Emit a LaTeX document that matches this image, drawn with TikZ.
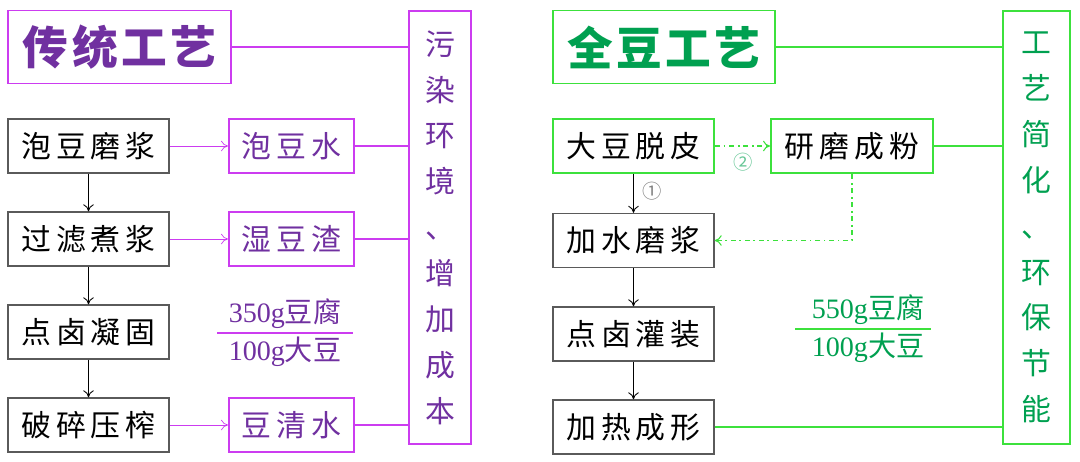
\documentclass[tikz,border=0pt]{standalone}
\usepackage{fontspec}
\setmainfont{Liberation Serif}
\newfontfamily\cjk{Noto Sans CJK SC}
\usetikzlibrary{arrows.meta}
\definecolor{mag}{RGB}{204,60,240}
\definecolor{purp}{RGB}{112,48,160}
\definecolor{grn}{RGB}{60,225,60}
\definecolor{dgrn}{RGB}{0,160,80}
\definecolor{gbox}{RGB}{90,90,90}
\newcommand{\tg}{\hspace{2pt}}
\begin{document}
\begin{tikzpicture}[x=0.02cm,y=-0.02cm,
  every node/.style={inner sep=0pt,font=\cjk},
  stepbox/.style={draw=gbox,line width=0.8pt,minimum width=3.22cm,minimum height=1.08cm,font=\cjk\fontsize{17}{20}\selectfont},
  magbox/.style={draw=mag,line width=1.1pt,minimum height=1.08cm,text=purp,font=\cjk\fontsize{17}{20}\selectfont},
  grnbox/.style={draw=grn,line width=1.1pt,minimum height=1.08cm,font=\cjk\fontsize{17}{20}\selectfont},
  titlebox/.style={line width=1.1pt,minimum width=4.45cm,minimum height=1.46cm,font=\cjk\bfseries\fontsize{26}{30}\selectfont},
  sidebox/.style={line width=1.1pt,minimum height=8.66cm,align=center,font=\cjk\fontsize{17}{26.1}\selectfont},
  magline/.style={draw=mag,line width=1pt},
  magarrow/.style={draw=mag,line width=0.4pt,-{To[length=4pt,width=6pt]}},
  blkarrow/.style={draw=black,line width=0.5pt,-{To[length=4pt,width=6pt]}},
  grnline/.style={draw=grn,line width=1pt},
  grnarrow/.style={draw=grn,line width=0.6pt,dash pattern=on 3pt off 2pt on 1pt off 2pt,-{To[length=4pt,width=6pt]}},
  fracfont/.style={font=\fontsize{16}{18}\selectfont}
]
\useasboundingbox (0,0) rectangle (1080,461);
% ---------- left ----------
\node[titlebox,draw=mag,text=purp] (t1) at (119.5,47) {传\tg 统\tg 工\tg 艺};
\node[sidebox,draw=mag,text=purp,minimum width=1.24cm] (r1) at (440,227.5) {污\\染\\环\\境\\、\\增\\加\\成\\本};
\node[stepbox] (a1) at (88.5,146) {泡\,豆\,磨\,浆};
\node[stepbox] (a2) at (88.5,239) {过\,滤\,煮\,浆};
\node[stepbox] (a3) at (88.5,332) {点\,卤\,凝\,固};
\node[stepbox] (a4) at (88.5,425) {破\,碎\,压\,榨};
\node[magbox,minimum width=2.5cm] (b1) at (291.5,146) {泡\,豆\,水};
\node[magbox,minimum width=2.5cm] (b2) at (291.5,239) {湿\,豆\,渣};
\node[magbox,minimum width=2.5cm] (b3) at (291.5,425) {豆\,清\,水};
\node[fracfont,text=purp] (f1) at (285,314) {350g{\cjk 豆腐}};
\node[fracfont,text=purp] (f2) at (285,352) {100g{\cjk 大豆}};
\coordinate (fl1) at (217,333);
\coordinate (fr1) at (353,333);
\draw[magline,line width=0.6pt] (fl1) -- (fr1);
\draw[magline] (t1.east) -- (t1.east -| r1.west);
\draw[magline] (b1.east) -- (b1.east -| r1.west);
\draw[magline] (b2.east) -- (b2.east -| r1.west);
\draw[magline] (b3.east) -- (b3.east -| r1.west);
\draw[magarrow] (a1) -- (b1);
\draw[magarrow] (a2) -- (b2);
\draw[magarrow] (a4) -- (b3);
\draw[blkarrow] (a1) -- (a2);
\draw[blkarrow] (a2) -- (a3);
\draw[blkarrow] (a3) -- (a4);
% ---------- right ----------
\node[titlebox,draw=grn,text=dgrn] (t2) at (664,47) {全\tg 豆\tg 工\tg 艺};
\node[sidebox,draw=grn,text=dgrn,minimum width=1.34cm] (r2) at (1036.5,227.5) {工\\艺\\简\\化\\、\\环\\保\\节\\能};
\node[grnbox,minimum width=3.22cm] (c1) at (633.5,146) {大\,豆\,脱\,皮};
\node[grnbox,minimum width=3.24cm] (d1) at (852,146) {研\,磨\,成\,粉};
\node[stepbox] (c2) at (633.5,240.5) {加\,水\,磨\,浆};
\node[stepbox] (c3) at (633.5,334) {点\,卤\,灌\,装};
\node[stepbox] (c4) at (633.5,427) {加\,热\,成\,形};
\node[fracfont,text=dgrn] (g1) at (868,310) {550g{\cjk 豆腐}};
\node[fracfont,text=dgrn] (g2) at (868,348) {100g{\cjk 大豆}};
\coordinate (gl1) at (795,329);
\coordinate (gr1) at (931,329);
\draw[grnline,line width=0.6pt] (gl1) -- (gr1);
\draw[grnline] (t2.east) -- (t2.east -| r2.west);
\draw[grnline] (d1.east) -- (d1.east -| r2.west);
\draw[grnline] (c4.east) -- (c4.east -| r2.west);
\draw[grnarrow] (c1) -- (d1);
\draw[grnarrow] (d1.south) |- (c2.east);
\draw[blkarrow] (c1) -- (c2);
\draw[blkarrow] (c2) -- (c3);
\draw[blkarrow] (c3) -- (c4);
\node[text=gray,font=\cjk\fontsize{11}{13}\selectfont] (n1) at (652,191) {①};
\node[text=dgrn!60,font=\cjk\fontsize{11}{13}\selectfont] (n2) at (743,162) {②};
\end{tikzpicture}
\end{document}
